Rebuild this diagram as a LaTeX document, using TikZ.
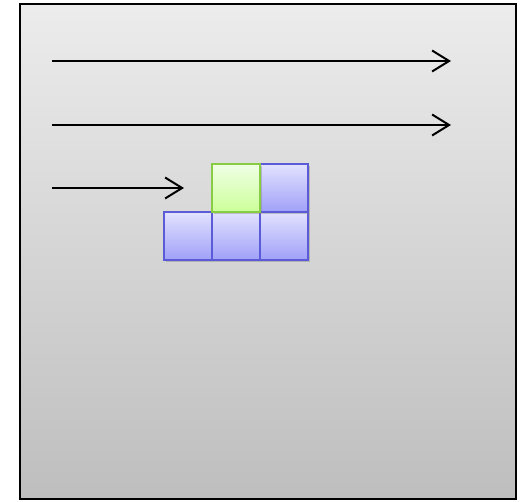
\documentclass[tikz,border=0pt]{standalone}
\usetikzlibrary{arrows.meta,shadows}
\definecolor{bluefillT}{HTML}{E2E2FF}
\definecolor{bluefillB}{HTML}{A0A0F8}
\definecolor{blueline}{HTML}{5B5BD8}
\definecolor{greenfillT}{HTML}{F0FFE6}
\definecolor{greenfillB}{HTML}{CCFF99}
\definecolor{greenline}{HTML}{88CC44}
\definecolor{bgT}{HTML}{ECECEC}
\definecolor{bgB}{HTML}{BEBEBE}
\tikzset{
  cell/.style={minimum width=48pt,minimum height=48pt,inner sep=0pt,line width=1.5pt,
    drop shadow={opacity=0.4,shadow xshift=1.5pt,shadow yshift=-2.5pt}},
  bluecell/.style={cell,draw=blueline,top color=bluefillT,bottom color=bluefillB},
  greencell/.style={cell,draw=greenline,top color=greenfillT,bottom color=greenfillB},
  arr/.style={line width=2pt,-{Straight Barb[length=17pt,width=21pt,line width=2pt]}}
}
\begin{document}
\begin{tikzpicture}[x=1pt,y=-1pt]
\useasboundingbox (0,0) rectangle (520,502);
\node[draw=black,line width=2pt,top color=bgT,bottom color=bgB,minimum width=496pt,minimum height=495pt,inner sep=0pt,
  drop shadow={opacity=0.25,shadow xshift=-1pt,shadow yshift=-1pt}] (frame) at (268,251.5) {};
\coordinate (a1s) at (52,61); \coordinate (a1e) at (451,61);
\coordinate (a2s) at (52,125); \coordinate (a2e) at (451,125);
\coordinate (a3s) at (52,188); \coordinate (a3e) at (184,188);
\draw[arr] (a1s) -- (a1e);
\draw[arr] (a2s) -- (a2e);
\draw[arr] (a3s) -- (a3e);
\node[bluecell] (b1) at (188,236) {};
\node[bluecell] (b2) at (236,236) {};
\node[bluecell] (b3) at (284,236) {};
\node[bluecell] (b4) at (284,188) {};
\node[greencell] (g1) at (236,188) {};
\end{tikzpicture}
\end{document}
